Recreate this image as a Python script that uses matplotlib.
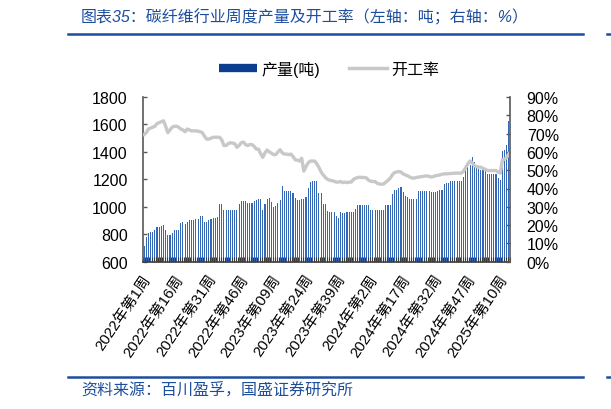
import numpy as np
import matplotlib
matplotlib.use('Agg')
import matplotlib.pyplot as plt
from matplotlib.lines import Line2D
from matplotlib.transforms import ScaledTranslation

plt.rcParams['font.family'] = ['Liberation Sans', 'Noto Sans CJK SC']
plt.rcParams['axes.unicode_minus'] = False

# 周度产量（吨），2022年第1周起
output = [717, 782, 812, 815, 820, 828, 851, 851, 859, 864,
          828, 795, 793, 812, 832, 832, 832, 885, 892, 873,
          890, 907, 907, 907, 909, 909, 936, 936, 892, 887,
          907, 911, 919, 919, 929, 1021, 1021, 975, 975, 975,
          975, 975, 975, 975, 1021, 1041, 1041, 1041, 1029, 1029,
          1029, 1041, 1051, 1058, 1058, 980, 1021, 1056, 1063, 1034,
          1000, 1009, 1026, 1051, 1155, 1114, 1114, 1114, 1114, 1102,
          1066, 1046, 1046, 1058, 1058, 1075, 1136, 1180, 1185, 1185,
          1185, 1100, 1100, 1021, 1021, 968, 962, 962, 962, 931,
          917, 964, 955, 955, 962, 962, 962, 962, 982, 1012,
          1012, 1012, 1012, 1012, 1012, 975, 975, 975, 977, 980,
          980, 980, 1012, 1012, 1012, 1092, 1126, 1126, 1136, 1141,
          1107, 1082, 1068, 1056, 1055, 1055, 1055, 1118, 1118, 1118,
          1118, 1118, 1118, 1107, 1107, 1107, 1112, 1121, 1125, 1167,
          1170, 1177, 1187, 1187, 1187, 1187, 1187, 1187, 1216, 1265,
          1289, 1301, 1362, 1326, 1301, 1277, 1270, 1270, 1265, 1240,
          1236, 1236, 1236, 1240, 1209, 1197, 1403, 1416, 1447, 1625]

# 开工率（%）
rate = [69.5, 70.5, 72.5, 73, 73.5, 74, 75.5, 76, 76.5, 77,
        74, 70.5, 72, 73.5, 74, 74, 73.5, 72.5, 72, 71,
        72.5, 72, 71.5, 71.5, 71.5, 71.3, 71, 70.5, 68.5, 67,
        67, 67.5, 68, 68, 68, 68, 66.5, 63.5, 63.5, 64.5,
        65, 64.8, 64.5, 62.5, 63.5, 65, 65.4, 64, 63.5, 64,
        64, 63, 61.5, 61.5, 59, 57, 59.5, 61, 60, 59.3,
        58.5, 58.5, 60, 61.2, 59.5, 58.8, 58.8, 58.5, 58.8, 57.5,
        55.7, 55.5, 55, 56.5, 49.5, 52, 54, 55, 55, 55,
        53.5, 51.5, 49, 47.4, 46, 45, 44.5, 44.3, 44, 43.5,
        43.5, 43.8, 43.2, 43.5, 43.2, 43.5, 43.5, 45, 45.6, 46,
        46.2, 46, 46, 45.8, 44.5, 44, 43.8, 43.8, 42.8, 42.5,
        42.3, 42.5, 43.5, 44.5, 45.6, 47.5, 48.7, 49, 49.3, 49,
        48, 47.4, 47, 46.3, 45.8, 45.6, 46, 46.2, 46.4, 46.5,
        46.8, 46.9, 46.6, 46.3, 46.5, 47, 47.2, 47.4, 47.8, 48,
        48, 48.1, 48.2, 48.3, 48.4, 48.4, 48.4, 48.4, 49.5, 51.5,
        53.5, 55, 54, 52.5, 52, 51.7, 51.6, 51, 50.5, 49.8,
        49.8, 49.8, 49.8, 49.8, 49, 48.4, 55.7, 56, 57, 59]

tick_labels = ['2022年第1周', '2022年第16周', '2022年第31周', '2022年第46周',
               '2023年第09周', '2023年第24周', '2023年第39周', '2024年第2周',
               '2024年第17周', '2024年第32周', '2024年第47周', '2025年第10周']

blue = '#1D4E9E'
n = len(output)
x = np.arange(n)

fig = plt.figure(figsize=(6.11, 4.10), dpi=100)
W, H = 611, 410
ax = fig.add_axes([143 / W, 1 - 262.7 / H, (510 - 143) / W, (262.7 - 98) / H])

ax.bar(x, output, width=0.5, color='#3467B6', linewidth=0)
ax.set_xlim(-0.5, n - 0.5)
ax.set_ylim(600, 1800)
ax.set_yticks(range(600, 1801, 200))

ax2 = ax.twinx()
ax2.plot(x, np.array(rate) / 100, color='#C8C8C8', lw=2.4, solid_joinstyle='round')
ax2.set_ylim(0, 0.9)
ax2.set_yticks(np.arange(0, 0.91, 0.1))
ax2.set_yticklabels([f'{v}%' for v in range(0, 91, 10)])

# 坐标轴样式
for a in (ax, ax2):
    for s in a.spines.values():
        s.set_visible(False)
ax.spines['left'].set_visible(True)
ax.spines['left'].set_color('#595959')
ax.spines['left'].set_linewidth(1.2)
ax.spines['bottom'].set_visible(True)
ax.spines['bottom'].set_color('#404040')
ax.spines['bottom'].set_linewidth(1.2)
ax2.spines['right'].set_visible(True)
ax2.spines['right'].set_color('#595959')
ax2.spines['right'].set_linewidth(1.2)

ax.tick_params(axis='y', direction='in', length=3, width=1, color='#595959',
               labelsize=11.5, pad=11)
ax2.tick_params(axis='y', direction='in', length=3, width=1, color='#595959',
                labelsize=11.5, pad=12)

ax.set_xticks(x[::15])
ax.set_xticklabels(tick_labels, fontsize=10.8)
ax.set_xticks(np.arange(-0.5, n, 1), minor=True)
ax.tick_params(axis='x', which='major', length=0, pad=10)
ax.tick_params(axis='x', which='minor', direction='in', length=3.8, width=0.8, color='#3A3A3A')
shift = ScaledTranslation(4 / 100, 0, fig.dpi_scale_trans)
for lab in ax.get_xticklabels():
    lab.set_rotation(56)
    lab.set_rotation_mode('anchor')
    lab.set_ha('right')
    lab.set_va('center')
    lab.set_transform(lab.get_transform() + shift)

# 图例
handles = [Line2D([], [], color='#0B3E8E', lw=6, solid_capstyle='butt'),
           Line2D([], [], color='#C8C8C8', lw=2.5)]
fig.legend(handles, ['产量(吨)', '开工率'], loc='center', ncol=2, frameon=False,
           bbox_to_anchor=(329 / W, 1 - 70 / H), fontsize=11.5,
           handlelength=2.4, handletextpad=0.25, columnspacing=1.8)

# 标题与来源
fig.text(81 / W, 1 - 17.5 / H, '图表35：碳纤维行业周度产量及开工率（左轴：吨；右轴：%）',
         color=blue, fontsize=11.5, style='italic', va='center', ha='left')
fig.add_artist(Line2D([68 / W, 583 / W], [1 - 35 / H] * 2, color=blue, lw=1.8))
fig.add_artist(Line2D([607 / W, 611 / W], [1 - 35 / H] * 2, color=blue, lw=1.8))
fig.add_artist(Line2D([68 / W, 583 / W], [1 - 378 / H] * 2, color=blue, lw=1.8))
fig.add_artist(Line2D([607 / W, 611 / W], [1 - 378 / H] * 2, color=blue, lw=1.8))
fig.text(81 / W, 1 - 390 / H, '资料来源：百川盈孚，国盛证券研究所',
         color=blue, fontsize=11.5, style='italic', va='center', ha='left')

fig.savefig('out.png', dpi=100)
